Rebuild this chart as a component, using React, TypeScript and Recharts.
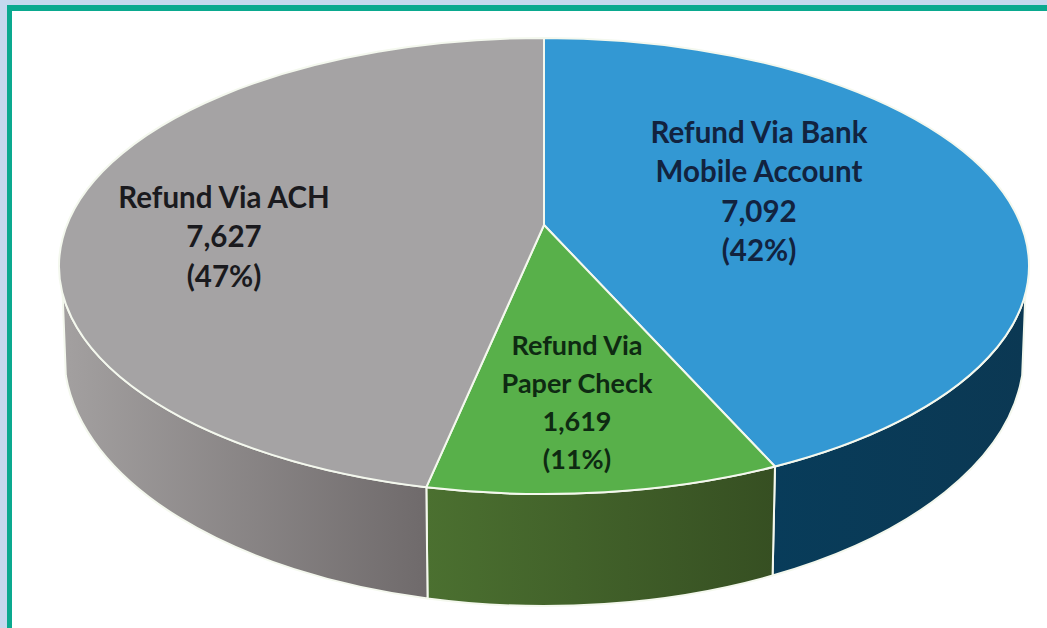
import React from 'react';
import { PieChart, Pie } from 'recharts';

// Slices run clockwise from 12 o'clock
const sliceNames = [['Refund Via Bank', 'Mobile Account'], ['Refund Via', 'Paper Check'], ['Refund Via ACH']];
const refundCounts = ['7,092', '1,619', '7,627'];
const percentLabels = ['(42%)', '(11%)', '(47%)'];
// Share of the circle each slice takes up as drawn
const drawnShares = [42.1, 11.8, 46.1];

const faceColors = ['#3398d3', '#58b04a', '#a5a3a4'];
const wallFills = ['url(#wallBlue)', 'url(#wallGreen)', 'url(#wallGrey)'];
const textColors = ['#12233f', '#0e2a12', '#1a1a1e'];

const tableData = drawnShares.map((share, i) => ({
  name: sliceNames[i].join(' '),
  share,
  face: faceColors[i],
  wall: wallFills[i],
  slice: i,
}));

const WIDTH = 1047;
const HEIGHT = 628;
const CX = 544;
const CY = 266;
const RADIUS = 485;
const SQUASH = 228 / 485; // top face is a flattened circle
const APEX_Y = 225; // tilt moves the meeting point above the ellipse centre
const BASE_CY = 353.5;
const BASE_A = 480;
const BASE_B = 252.5;
const labelCenters = [[759, 131], [577, 344], [224, 196]];
const labelSizes = [29.5, 27, 29.5];
const labelSpacing = [39.5, 38, 39.5];

const toClock = (angle: number) => 90 - angle;
const rad = (deg: number) => (deg * Math.PI) / 180;

const topPoint = (deg: number, cx: number, cy: number, r: number) =>
  `${cx + r * Math.sin(rad(deg))} ${cy - r * SQUASH * Math.cos(rad(deg))}`;
const basePoint = (deg: number) =>
  `${CX + BASE_A * Math.sin(rad(deg))} ${BASE_CY - BASE_B * Math.cos(rad(deg))}`;

const FaceShape = (props: any) => {
  const { cx, cy, outerRadius, startAngle, endAngle, payload } = props;
  const from = toClock(startAngle);
  const to = toClock(endAngle);
  const large = to - from > 180 ? 1 : 0;
  const d = `M ${cx} ${APEX_Y} L ${topPoint(from, cx, cy, outerRadius)} A ${outerRadius} ${outerRadius * SQUASH} 0 ${large} 1 ${topPoint(to, cx, cy, outerRadius)} Z`;
  return <path d={d} fill={payload.face} stroke="#f4f8ee" strokeWidth={2} strokeLinejoin="round" />;
};

const WallShape = (props: any) => {
  const { cx, cy, outerRadius, startAngle, endAngle, payload } = props;
  const clamp = (v: number, lo: number, hi: number) => Math.min(hi, Math.max(lo, v));
  const from = toClock(startAngle);
  const to = toClock(endAngle);
  const topA = clamp(from, 97, 263);
  const topB = clamp(to, 97, 263);
  const baseA = from < 97 ? 95 : clamp(from, 95, 265);
  const baseB = to > 263 ? 265 : clamp(to, 95, 265);
  if (topB <= topA) return <g />;
  const d = `M ${topPoint(topA, cx, cy, outerRadius)} A ${outerRadius} ${outerRadius * SQUASH} 0 0 1 ${topPoint(topB, cx, cy, outerRadius)} L ${basePoint(baseB)} A ${BASE_A} ${BASE_B} 0 0 0 ${basePoint(baseA)} Z`;
  return <path d={d} fill={payload.wall} stroke="#f4f8ee" strokeWidth={2} strokeLinejoin="round" />;
};

const renderSliceLabel = (props: any) => {
  const i = props.payload?.slice ?? props.slice ?? props.index;
  const [x, y] = labelCenters[i];
  const lines = [...sliceNames[i], refundCounts[i], percentLabels[i]];
  return (
    <text
      key={i}
      textAnchor="middle"
      fontFamily="Lato, sans-serif"
      fontWeight={700}
      fontSize={labelSizes[i]}
      fill={textColors[i]}
    >
      {lines.map((line, k) => (
        <tspan key={k} x={x} y={y + k * labelSpacing[i]} dominantBaseline="central">
          {line}
        </tspan>
      ))}
    </text>
  );
};

export default function App() {
  return (
    <div style={{ position: 'absolute', left: 0, top: 0, width: WIDTH, height: HEIGHT, background: '#c5d8ee', overflow: 'hidden' }}>
      <div
        style={{
          position: 'absolute',
          left: 7,
          top: 5,
          right: 0,
          bottom: 0,
          background: '#ffffff',
          borderLeft: '5px solid #0aa98f',
          borderTop: '6px solid #0aa98f',
        }}
      />
      <div style={{ position: 'absolute', left: 0, top: 0 }}>
        <PieChart width={WIDTH} height={HEIGHT} margin={{ top: 0, right: 0, bottom: 0, left: 0 }}>
          <defs>
            <linearGradient id="wallBlue" x1="0" y1="0" x2="1" y2="0">
              <stop offset="0%" stopColor="#083c5a" />
              <stop offset="100%" stopColor="#0b3853" />
            </linearGradient>
            <linearGradient id="wallGreen" x1="0" y1="0" x2="1" y2="0">
              <stop offset="0%" stopColor="#4b7030" />
              <stop offset="100%" stopColor="#364f22" />
            </linearGradient>
            <linearGradient id="wallGrey" x1="0" y1="0" x2="1" y2="0">
              <stop offset="0%" stopColor="#a3a0a0" />
              <stop offset="100%" stopColor="#6f6a6b" />
            </linearGradient>
          </defs>
          <Pie
            data={tableData}
            dataKey="share"
            cx={CX}
            cy={CY}
            outerRadius={RADIUS}
            startAngle={90}
            endAngle={-270}
            shape={WallShape}
            isAnimationActive={false}
          />
          <Pie
            data={tableData}
            dataKey="share"
            cx={CX}
            cy={CY}
            outerRadius={RADIUS}
            startAngle={90}
            endAngle={-270}
            shape={FaceShape}
            label={renderSliceLabel}
            labelLine={false}
            isAnimationActive={false}
          />
        </PieChart>
      </div>
    </div>
  );
}
